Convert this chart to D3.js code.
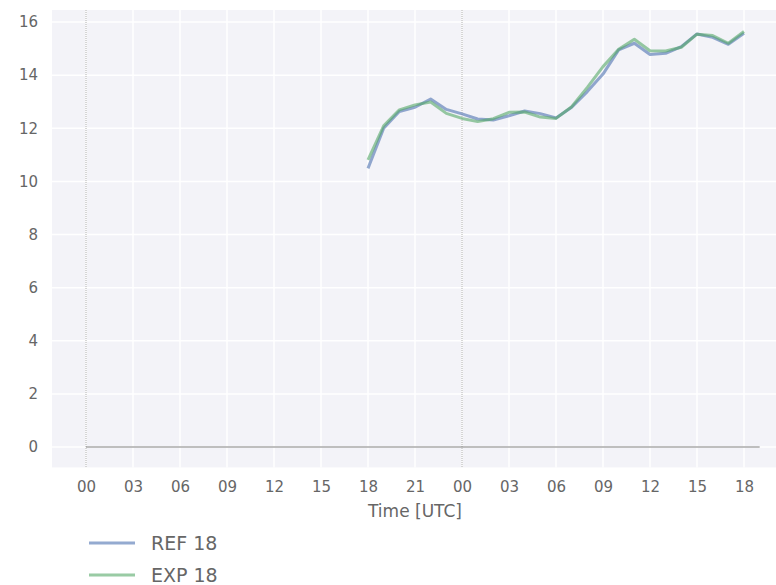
<!DOCTYPE html>
<html>
<head>
<meta charset="utf-8">
<script src="https://cdn.jsdelivr.net/npm/d3@7"></script>
<style>
  body { margin: 0; background: #fff; }
  text { font-family: "DejaVu Sans", sans-serif; fill: #666; }
</style>
</head>
<body>
<div id="chart"></div>
<script>
// hours since 00 UTC of day 1
const hours = d3.range(18, 43)
const refValues = [10.49, 12.0, 12.63, 12.79, 13.1, 12.71, 12.54, 12.35, 12.31, 12.47, 12.65, 12.55, 12.39,
  12.79, 13.38, 14.04, 14.95, 15.2, 14.78, 14.82, 15.07, 15.55, 15.42, 15.16, 15.58]
const expValues = [10.81, 12.09, 12.69, 12.88, 12.99, 12.56, 12.37, 12.25, 12.36, 12.6, 12.61, 12.42, 12.37,
  12.81, 13.54, 14.32, 14.97, 15.35, 14.92, 14.91, 15.05, 15.54, 15.49, 15.2, 15.64]
const xTicks = d3.range(0, 43, 3)
const xTickLabels = ["00", "03", "06", "09", "12", "15", "18", "21", "00", "03", "06", "09", "12", "15", "18"]
const yTicks = [0, 2, 4, 6, 8, 10, 12, 14, 16]
const seriesNames = ["REF 18", "EXP 18"]
const dayStarts = [0, 24]

const width = 776, height = 585

const x = d3.scaleLinear().domain([0, 42]).range([86, 744])
const y = d3.scaleLinear().domain([0, 16]).range([447, 22])

const svg = d3.select("#chart").append("svg")
  .attr("width", width)
  .attr("height", height)

const plotLeft = x(-2.17), plotTop = y(16.45), plotBottom = y(-0.77)

// 背景
svg.append("rect")
  .attr("x", plotLeft).attr("y", plotTop)
  .attr("width", width - plotLeft).attr("height", plotBottom - plotTop)
  .attr("fill", "#f3f3f8")

const grid = svg.append("g")
grid.selectAll(".vg").data(xTicks).join("line")
  .attr("x1", d => x(d)).attr("x2", d => x(d))
  .attr("y1", plotTop).attr("y2", plotBottom)
  .attr("stroke", "#fff").attr("stroke-width", 1.5)
grid.selectAll(".hg").data(yTicks).join("line")
  .attr("x1", plotLeft).attr("x2", width)
  .attr("y1", d => y(d)).attr("y2", d => y(d))
  .attr("stroke", "#fff").attr("stroke-width", 1.5)

// 日界线
svg.selectAll(".day").data(dayStarts).join("line")
  .attr("x1", d => x(d)).attr("x2", d => x(d))
  .attr("y1", plotTop).attr("y2", plotBottom)
  .attr("stroke", "#aaa").attr("stroke-width", 1)
  .attr("stroke-dasharray", "1,1")

// zero line
svg.append("line")
  .attr("x1", x(0)).attr("x2", x(43))
  .attr("y1", y(0)).attr("y2", y(0))
  .attr("stroke", "#808080").attr("stroke-width", 1.2)

// axes
const xAxis = svg.append("g")
  .attr("transform", `translate(0,${plotBottom})`)
  .call(d3.axisBottom(x).tickValues(xTicks).tickFormat((d, i) => xTickLabels[i]).tickSize(0).tickPadding(14))
xAxis.select(".domain").remove()
xAxis.selectAll("text").style("font-size", "15px").attr("fill", "#707070")

const yAxis = svg.append("g")
  .attr("transform", `translate(${plotLeft},0)`)
  .call(d3.axisLeft(y).tickValues(yTicks).tickSize(0).tickPadding(14))
yAxis.select(".domain").remove()
yAxis.selectAll("text").style("font-size", "15px").attr("fill", "#707070")

svg.append("text")
  .attr("x", x(21)).attr("y", 517)
  .attr("text-anchor", "middle")
  .style("font-size", "17px")
  .text("Time [UTC]")

const colors = ["#4c72b0", "#55a868"]
const line = d3.line().x((d, i) => x(hours[i])).y(d => y(d))

svg.selectAll(".series").data([refValues, expValues]).join("path")
  .attr("d", line)
  .attr("fill", "none")
  .attr("stroke", (d, i) => colors[i])
  .attr("stroke-opacity", 0.6)
  .attr("stroke-width", 3)
  .attr("stroke-linejoin", "round")

// legend
const legend = svg.selectAll(".legend").data(seriesNames).join("g")
  .attr("transform", (d, i) => `translate(0,${543 + i * 32})`)
legend.append("line")
  .attr("x1", 89).attr("x2", 135)
  .attr("stroke", (d, i) => colors[i])
  .attr("stroke-opacity", 0.6)
  .attr("stroke-width", 3)
legend.append("text")
  .attr("x", 151).attr("y", 7)
  .style("font-size", "19px")
  .text(d => d)
</script>
</body>
</html>
